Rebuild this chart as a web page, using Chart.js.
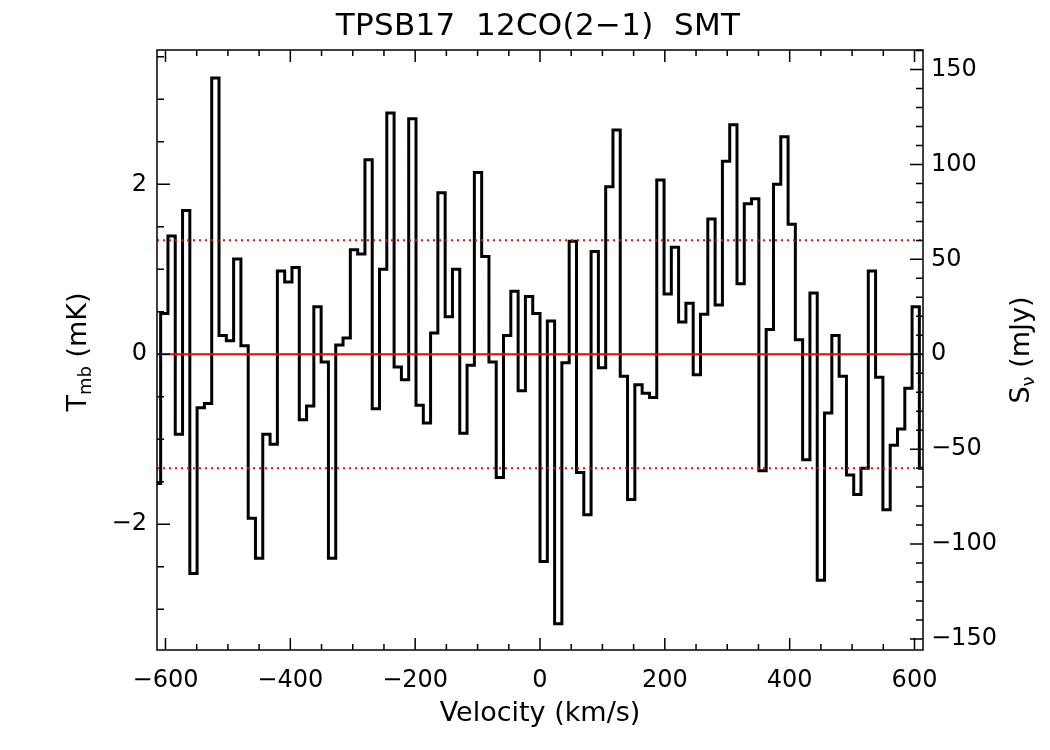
<!DOCTYPE html>
<html>
<head>
<meta charset="utf-8">
<script src="https://cdn.jsdelivr.net/npm/chart.js@4.4.0/dist/chart.umd.min.js"></script>
<style>
  html, body { margin: 0; padding: 0; background: #fff; }
  canvas { display: block; }
</style>
</head>
<body>
<canvas id="spec" width="1050" height="750"></canvas>
<script>
// channel velocities (km/s), one per spectrum channel
var velocity = [
  -613.6, -601.9, -590.2, -578.5, -566.8, -555.2, -543.5, -531.8, -520.1, -508.4,
  -496.7, -485.0, -473.3, -461.7, -450.0, -438.3, -426.6, -414.9, -403.2, -391.5,
  -379.8, -368.2, -356.5, -344.8, -333.1, -321.4, -309.7, -298.0, -286.3, -274.6,
  -263.0, -251.3, -239.6, -227.9, -216.2, -204.5, -192.8, -181.1, -169.5, -157.8,
  -146.1, -134.4, -122.7, -111.0, -99.3, -87.6, -76.0, -64.3, -52.6, -40.9,
  -29.2, -17.5, -5.8, 5.9, 17.6, 29.2, 40.9, 52.6, 64.3, 76.0,
  87.7, 99.4, 111.1, 122.7, 134.4, 146.1, 157.8, 169.5, 181.2, 192.9,
  204.6, 216.2, 227.9, 239.6, 251.3, 263.0, 274.7, 286.4, 298.1, 309.8,
  321.4, 333.1, 344.8, 356.5, 368.2, 379.9, 391.6, 403.3, 414.9, 426.6,
  438.3, 450.0, 461.7, 473.4, 485.1, 496.8, 508.4, 520.1, 531.8, 543.5,
  555.2, 566.9, 578.6, 590.3, 601.9, 613.6
];

// main beam temperature (mK)
var tmb = [
  -1.52, 0.48, 1.39, -0.94, 1.69, -2.58, -0.63, -0.58, 3.25, 0.22,
  0.16, 1.12, 0.10, -1.93, -2.40, -0.94, -1.06, 0.98, 0.85, 1.02,
  -0.77, -0.61, 0.56, -0.09, -2.40, 0.11, 0.19, 1.23, 1.18, 2.29,
  -0.64, 1.00, 2.84, -0.15, -0.30, 2.77, -0.60, -0.81, 0.25, 1.90,
  0.44, 1.00, -0.93, -0.13, 2.14, 1.15, -0.09, -1.45, 0.22, 0.74,
  -0.43, 0.68, 0.48, -2.44, 0.39, -3.17, -0.10, 1.33, -1.39, -1.89,
  1.21, -0.16, 1.97, 2.64, -0.26, -1.71, -0.36, -0.46, -0.51, 2.05,
  0.71, 1.26, 0.38, 0.60, -0.24, 0.47, 1.59, 0.58, 2.27, 2.70,
  0.83, 1.77, 1.83, -1.37, 0.29, 2.00, 2.56, 1.53, 0.17, -1.24,
  0.72, -2.66, -0.69, 0.22, -0.26, -1.42, -1.65, -1.34, 0.98, -0.27,
  -1.83, -1.07, -0.88, -0.40, 0.56, -1.34
];

var rmsLevel = 1.34;      // mK, dotted lines at +/- this
var mjyPerMk = 44.78;     // flux conversion for right axis

var xTicks = [-600, -400, -200, 0, 200, 400, 600];
var yTicks = [-2, 0, 2];
var y2Ticks = [-150, -100, -50, 0, 50, 100, 150];

var xMin = -613.6, xMax = 613.6;
var yMin = -3.48, yMax = 3.58;

var titleText = 'TPSB17  12CO(2\u22121)  SMT';
var FONT = "'DejaVu Sans', sans-serif";

function fmt(v) {
  return v < 0 ? '\u2212' + Math.abs(v) : String(v);
}

// box with inward ticks + titles (IDL look)
var framePlugin = {
  id: 'frame',
  afterDatasetsDraw: function(chart) {
    var ctx = chart.ctx, a = chart.chartArea;
    var sx = chart.scales.x, sy = chart.scales.y, sy2 = chart.scales.y2;
    ctx.save();
    ctx.strokeStyle = '#000';
    ctx.lineWidth = 1.5;
    ctx.strokeRect(a.left, a.top, a.right - a.left, a.bottom - a.top);
    ctx.beginPath();
    var v, p, len;
    for (v = -600; v <= 600; v += 50) {
      p = sx.getPixelForValue(v);
      len = (v % 200 === 0) ? 12 : 6;
      ctx.moveTo(p, a.bottom); ctx.lineTo(p, a.bottom - len);
      ctx.moveTo(p, a.top); ctx.lineTo(p, a.top + len);
    }
    for (v = -3.5; v <= 3.5; v += 0.5) {
      p = sy.getPixelForValue(v);
      if (p < a.top || p > a.bottom) continue;
      len = (v % 2 === 0) ? 13 : 7;
      ctx.moveTo(a.left, p); ctx.lineTo(a.left + len, p);
    }
    for (v = -150; v <= 160; v += 10) {
      p = sy2.getPixelForValue(v);
      if (p < a.top || p > a.bottom) continue;
      len = (v % 50 === 0) ? 13 : 7;
      ctx.moveTo(a.right, p); ctx.lineTo(a.right - len, p);
    }
    ctx.stroke();

    ctx.fillStyle = '#000';
    // main title
    ctx.save();
    ctx.font = '31px ' + FONT;
    ctx.letterSpacing = '0.3px';
    ctx.textAlign = 'center';
    ctx.textBaseline = 'alphabetic';
    ctx.fillText(titleText, 538, 35);
    ctx.restore();

    // x title
    ctx.font = '27px ' + FONT;
    ctx.textAlign = 'center';
    ctx.textBaseline = 'alphabetic';
    ctx.fillText('Velocity (km/s)', (a.left + a.right) / 2, 721);

    // rotated titles with subscripts
    function sideTitle(cx, cy, main, sub, rest) {
      ctx.save();
      ctx.translate(cx, cy);
      ctx.rotate(-Math.PI / 2);
      ctx.textAlign = 'left';
      ctx.textBaseline = 'middle';
      ctx.font = '27px ' + FONT;
      var w1 = ctx.measureText(main).width;
      var w3 = ctx.measureText(rest).width;
      ctx.font = '18px ' + FONT;
      var w2 = ctx.measureText(sub).width;
      var x0 = -(w1 + w2 + w3) / 2;
      ctx.font = '27px ' + FONT;
      ctx.fillText(main, x0, 0);
      ctx.font = '18px ' + FONT;
      ctx.fillText(sub, x0 + w1, 7);
      ctx.font = '27px ' + FONT;
      ctx.fillText(rest, x0 + w1 + w2, 0);
      ctx.restore();
    }
    sideTitle(79, 352, 'T', 'mb', ' (mK)');
    sideTitle(1022, 350, 'S', '\u03bd', ' (mJy)');
    ctx.restore();
  }
};

var spectrum = velocity.map(function(v, i) { return { x: v, y: tmb[i] }; });

new Chart(document.getElementById('spec').getContext('2d'), {
  type: 'line',
  data: {
    datasets: [
      {
        data: [{ x: xMin, y: 0 }, { x: xMax, y: 0 }],
        borderColor: '#ff0000', borderWidth: 2, pointRadius: 0, order: 0
      },
      {
        data: [{ x: xMin, y: rmsLevel }, { x: xMax, y: rmsLevel }],
        borderColor: '#ff0000', borderWidth: 2, borderDash: [2, 4], pointRadius: 0, order: 0
      },
      {
        data: [{ x: xMin, y: -rmsLevel }, { x: xMax, y: -rmsLevel }],
        borderColor: '#ff0000', borderWidth: 2, borderDash: [2, 4], pointRadius: 0, order: 0
      },
      {
        data: spectrum,
        stepped: 'middle',
        borderColor: '#000', borderWidth: 3, borderJoinStyle: 'miter',
        pointRadius: 0, fill: false, order: 1
      }
    ]
  },
  options: {
    responsive: false,
    animation: false,
    devicePixelRatio: 1,
    layout: { padding: { top: 50, left: 0, right: 0, bottom: 0 } },
    plugins: {
      legend: { display: false },
      tooltip: { enabled: false },
      title: { display: false }
    },
    scales: {
      x: {
        type: 'linear', position: 'bottom', min: xMin, max: xMax,
        grid: { display: false, drawTicks: false },
        border: { display: false },
        afterBuildTicks: function(s) { s.ticks = xTicks.map(function(v) { return { value: v }; }); },
        afterFit: function(s) { s.height = 100; },
        ticks: {
          autoSkip: false, maxRotation: 0, padding: 16, color: '#000',
          font: { family: FONT, size: 24 },
          callback: function(v) { return fmt(v); }
        }
      },
      y: {
        type: 'linear', position: 'left', min: yMin, max: yMax,
        grid: { display: false, drawTicks: false },
        border: { display: false },
        afterBuildTicks: function(s) { s.ticks = yTicks.map(function(v) { return { value: v }; }); },
        afterFit: function(s) { s.width = 157; },
        ticks: {
          autoSkip: false, padding: 10, color: '#000',
          font: { family: FONT, size: 24 },
          callback: function(v) { return fmt(v); }
        }
      },
      y2: {
        type: 'linear', position: 'right',
        min: yMin * mjyPerMk, max: yMax * mjyPerMk,
        grid: { display: false, drawTicks: false },
        border: { display: false },
        afterBuildTicks: function(s) { s.ticks = y2Ticks.map(function(v) { return { value: v }; }); },
        afterFit: function(s) { s.width = 127; },
        ticks: {
          autoSkip: false, padding: 8, color: '#000',
          font: { family: FONT, size: 24 },
          callback: function(v) { return fmt(v); }
        }
      }
    }
  },
  plugins: [framePlugin]
});
</script>
</body>
</html>
